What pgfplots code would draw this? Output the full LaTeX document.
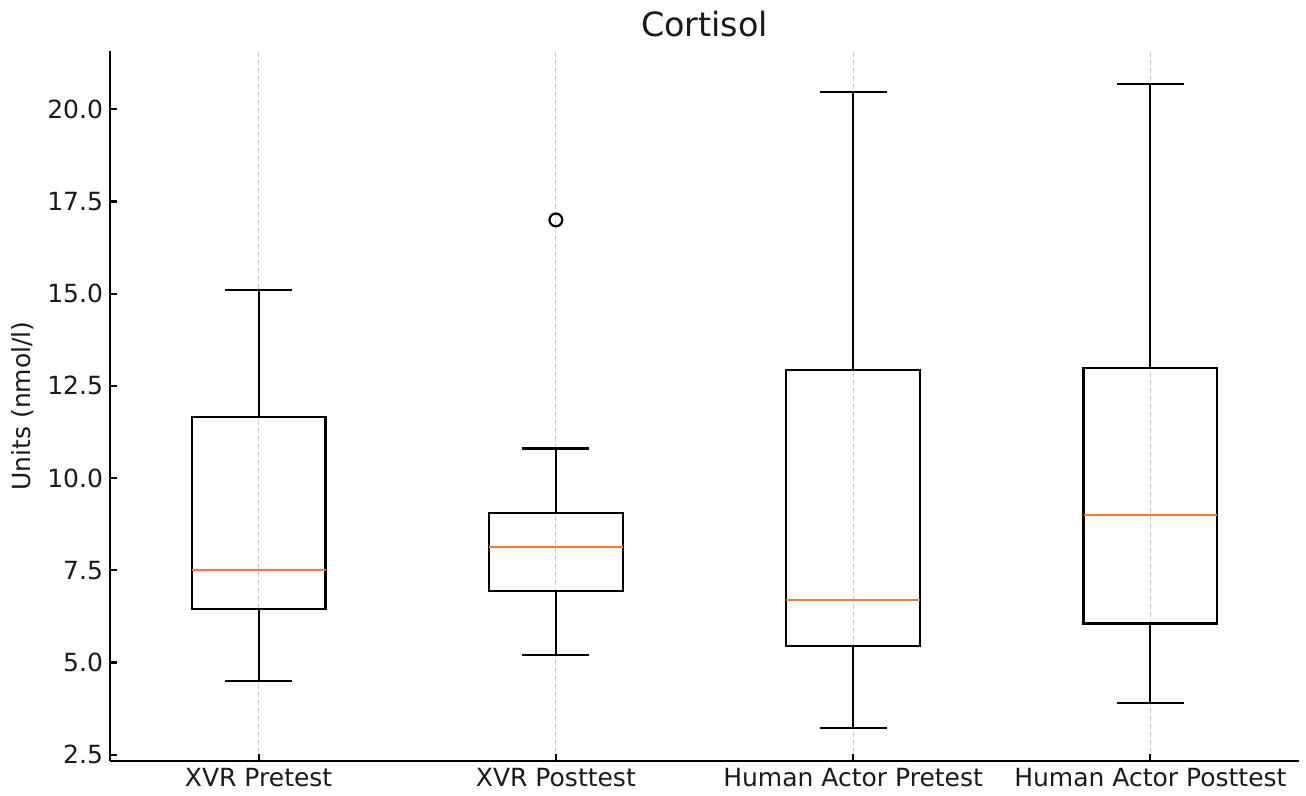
\documentclass[border=0pt]{standalone}
\usepackage{fontspec}
\setmainfont{DejaVu Sans}
\usepackage{pgfplots}
\pgfplotsset{compat=1.18}
\usepgfplotslibrary{statistics}
\definecolor{medc}{HTML}{F47A38}
\definecolor{txt}{HTML}{1A1A1A}
\begin{document}
\begin{tikzpicture}
\useasboundingbox (0,0) rectangle (653bp,398bp);
\begin{axis}[
  at={(55bp,17.5bp)}, anchor=south west,
  scale only axis, width=594.5bp, height=355bp,
  xmin=0.5, xmax=4.5, ymin=2.33, ymax=21.58,
  axis x line*=bottom, axis y line*=left,
  axis line style={line width=1.1bp, black},
  /pgf/number format/assume math mode=true,
  xtick={1,2,3,4},
  xticklabels={XVR Pretest, XVR Posttest, Human Actor Pretest, Human Actor Posttest},
  ytick={2.5,5,7.5,10,12.5,15,17.5,20},
  yticklabel style={/pgf/number format/.cd, fixed, fixed zerofill, precision=1},
  tick align=inside,
  major tick length=3.4bp,
  tick style={line width=1.1bp, black},
  tick label style={font=\fontsize{12.5bp}{15bp}\selectfont, text=txt},
  xmajorgrids,
  grid style={dash pattern=on 2.5bp off 1.5bp, line width=0.5bp, color=black!22},
  ylabel={Units (nmol/l)},
  ylabel style={at={(axis description cs:0,0.5)}, anchor=center, yshift=43.5bp, font=\fontsize{12.5bp}{15bp}\selectfont, text=txt},
  title={Cortisol},
  title style={at={(axis description cs:0.5,1)}, anchor=base, yshift=1.5bp, font=\fontsize{16.7bp}{20bp}\selectfont, text=txt},
  boxplot/draw direction=y,
  boxplot/box extend=0.45,
  boxplot/whisker extend=0.225,
  boxplot/every median/.style={draw=medc, line width=1.1bp},
]
\addplot[black, line width=1.1bp, solid, boxplot prepared={lower whisker=4.5, lower quartile=6.45, median=7.5, upper quartile=11.65, upper whisker=15.1, draw position=1}] coordinates {};
\addplot[black, line width=1.1bp, solid, mark=o, mark size=3.2bp, mark options={solid, line width=1.1bp, fill=none}, boxplot prepared={lower whisker=5.21, lower quartile=6.94, median=8.13, upper quartile=9.05, upper whisker=10.8, draw position=2}] table[row sep=\\, y index=0] {17.0\\};
\addplot[black, line width=1.1bp, solid, boxplot prepared={lower whisker=3.22, lower quartile=5.45, median=6.7, upper quartile=12.93, upper whisker=20.47, draw position=3}] coordinates {};
\addplot[black, line width=1.1bp, solid, boxplot prepared={lower whisker=3.9, lower quartile=6.06, median=9.0, upper quartile=12.98, upper whisker=20.68, draw position=4}] coordinates {};
\end{axis}
\end{tikzpicture}
\end{document}
